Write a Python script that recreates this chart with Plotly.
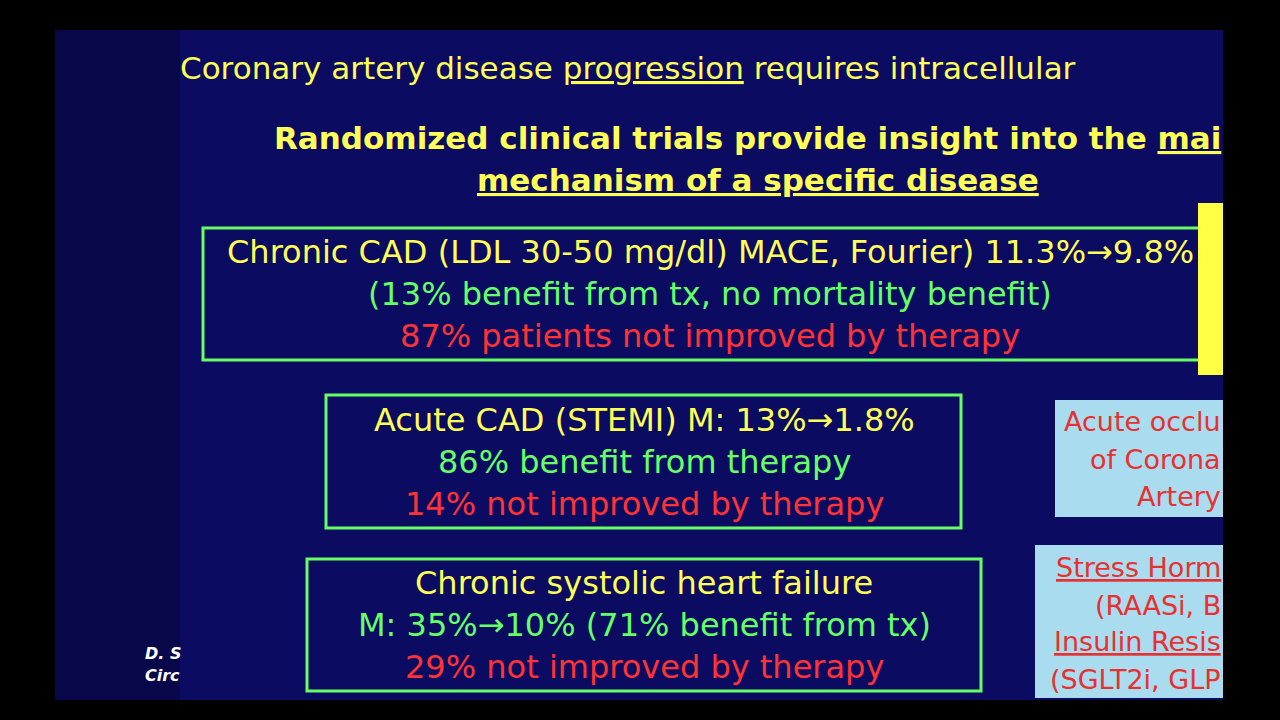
import plotly.graph_objects as go

# slide texts
title_lines = ["Coronary artery disease <u>progression</u> requires intracellular",
               "Randomized clinical trials provide insight into the <u>mai</u>",
               "<u>mechanism of a specific disease</u>"]
box1_lines = ["Chronic CAD (LDL 30-50 mg/dl) MACE, Fourier) 11.3%→9.8%",
              "(13% benefit from tx, no mortality benefit)",
              "87% patients not improved by therapy"]
box2_lines = ["Acute CAD (STEMI) M: 13%→1.8%",
              "86% benefit from therapy",
              "14% not improved by therapy"]
box3_lines = ["Chronic systolic heart failure",
              "M: 35%→10% (71% benefit from tx)",
              "29% not improved by therapy"]
side1_lines = ["Acute occlu", "of Corona", "Artery"]
side2_lines = ["<u>Stress Horm</u>", "(RAASi, B", "<u>Insulin Resis</u>", "(SGLT2i, GLP"]
cite_lines = ["D. S", "Circ"]

YEL, GRN, RED = "#ffff55", "#66ff66", "#ff3333"
FONT = "DejaVu Sans"

fig = go.Figure()
shapes = [
    dict(type="rect", x0=55, x1=1223, y0=30, y1=700, fillcolor="#0b0b62", line_width=0, layer="below"),
    dict(type="rect", x0=55, x1=180, y0=30, y1=700, fillcolor="#07074a", line_width=0, layer="below"),
    dict(type="rect", x0=203, x1=1205, y0=228, y1=360, fillcolor="#0b0b62", line=dict(color=GRN, width=3)),
    dict(type="rect", x0=326, x1=961, y0=395, y1=528, fillcolor="#0b0b62", line=dict(color=GRN, width=3)),
    dict(type="rect", x0=307, x1=981, y0=559, y1=691, fillcolor="#0b0b62", line=dict(color=GRN, width=3)),
    dict(type="rect", x0=1198, x1=1223, y0=203, y1=375, fillcolor="#ffff44", line_width=0),
    dict(type="rect", x0=1055, x1=1223, y0=400, y1=517, fillcolor="#a8dcee", line_width=0),
    dict(type="rect", x0=1035, x1=1223, y0=545, y1=698, fillcolor="#a8dcee", line_width=0),
]

ann = []
def add(text, x, y, size, color, xanchor="center", bold=False):
    ann.append(dict(text=f"<b>{text}</b>" if bold else text, x=x, y=y, xref="x", yref="y",
                    xanchor=xanchor, yanchor="middle", showarrow=False,
                    font=dict(family=FONT, size=size, color=color)))

add(title_lines[0], 178, 68, 31, YEL, "left")
add(title_lines[1], 1223, 138, 31, YEL, "right", True)
add(title_lines[2], 758, 180, 31, YEL, "center", True)
for t, y, c in zip(box1_lines, [252, 294, 336], [YEL, GRN, RED]):
    add(t, 710, y, 32, c)
for t, y, c in zip(box2_lines, [420, 462, 504], [YEL, GRN, RED]):
    add(t, 644, y, 32, c)
for t, y, c in zip(box3_lines, [583, 625, 667], [YEL, GRN, RED]):
    add(t, 644, y, 32, c)
for t, y in zip(side1_lines, [421, 459, 496]):
    add(t, 1223, y, 27, "#e83030", "right")
for t, y in zip(side2_lines, [567, 605, 641, 679]):
    add(t, 1223, y, 27, "#e83030", "right")
for t, y in zip(cite_lines, [653, 675]):
    add(f"<i>{t}</i>", 143, y, 16, "white", "left", True)

fig.update_layout(
    width=1280, height=720, margin=dict(l=0, r=0, t=0, b=0),
    paper_bgcolor="black", plot_bgcolor="black",
    xaxis=dict(range=[0, 1280], visible=False, fixedrange=True),
    yaxis=dict(range=[720, 0], visible=False, fixedrange=True),
    shapes=shapes, annotations=ann, showlegend=False,
)
fig.write_html("out.html", config={"displayModeBar": False},
               post_script="document.body.style.margin='0';")
